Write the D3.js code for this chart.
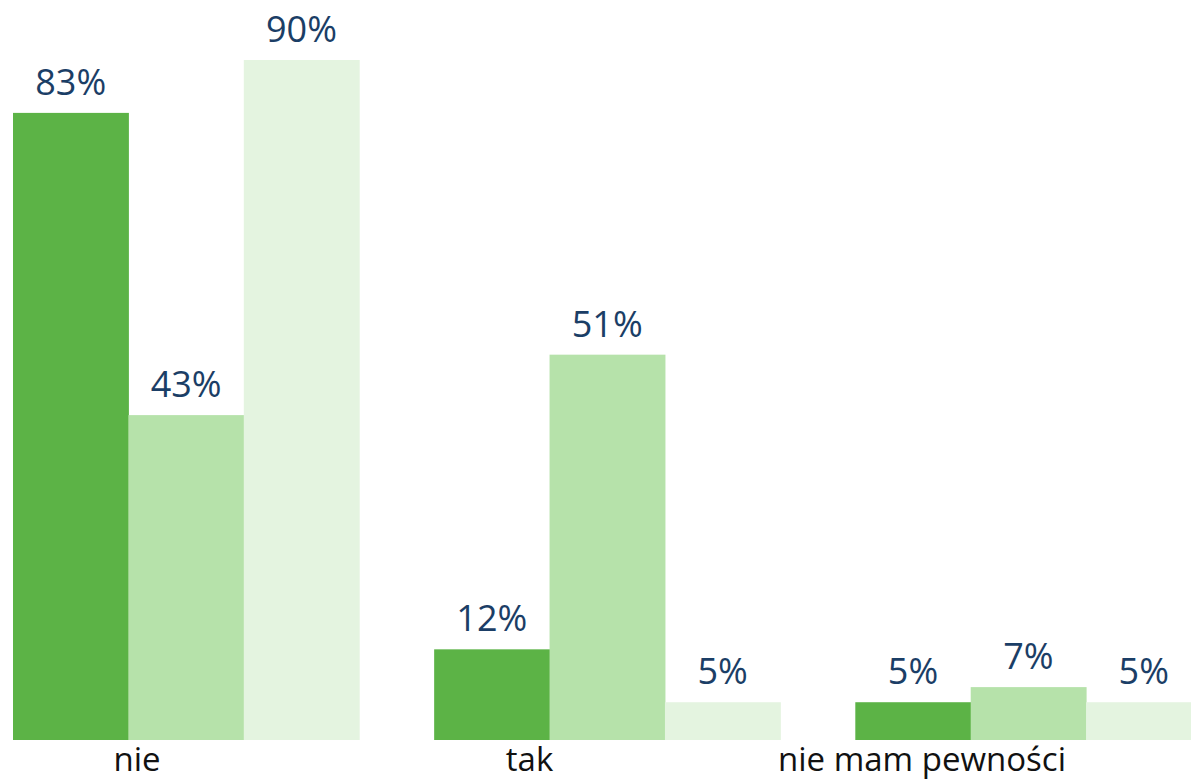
<!DOCTYPE html>
<html lang="pl">
	<head>
		<meta charset="utf-8">
		<title>Grouped bar chart</title>
		<script type="text/javascript" src="https://d3js.org/d3.v7.min.js"></script>
		<style type="text/css">
		body { margin: 0; background: #fff; }
		.valueLabel {
			font-family: "Open Sans", sans-serif;
			font-size: 36px;
			fill: #1b3e66;
			text-anchor: middle;
		}
		.catLabel {
			font-family: "Open Sans", sans-serif;
			font-size: 33px;
			fill: #111;
			text-anchor: middle;
		}
		</style>
	</head>
	<body>
		<script type="text/javascript">

		// data
		var categories = ["nie", "tak", "nie mam pewności"];
		var seriesNames = ["s1", "s2", "s3"];
		var series1 = [83, 12, 5];
		var series2 = [43, 51, 7];
		var series3 = [90, 5, 5];
		var colors = ["#5cb346", "#b6e2aa", "#e4f4e0"];

		var width = 1191, height = 781;

		var rows = categories.map(function(c, i) {
			return { cat: c, values: [series1[i], series2[i], series3[i]] };
		});

		var svg = d3.select("body")
			.append("svg")
			.attr("width", width)
			.attr("height", height);

		var xScale = d3.scaleBand()
			.domain(categories)
			.range([13, 1201.5])
			.paddingInner(0.178)
			.paddingOuter(0);

		var xInner = d3.scaleBand()
			.domain(seriesNames)
			.range([0, xScale.bandwidth()]);

		// category labels sit a bit left of group centres in the original
		var xLabel = d3.scalePoint()
			.domain(categories)
			.range([137, 922]);

		var yScale = d3.scaleLinear()
			.domain([0, 90])
			.range([740, 60]);

		var groups = svg.selectAll(".group")
			.data(rows)
			.enter()
			.append("g")
			.attr("class", "group")
			.attr("transform", function(d) { return "translate(" + xScale(d.cat) + ",0)"; });

		groups.selectAll("rect")
			.data(function(d) { return d.values.map(function(v, i) { return { key: seriesNames[i], v: v, i: i }; }); })
			.enter()
			.append("rect")
			.attr("x", function(d) { return xInner(d.key); })
			.attr("y", function(d) { return yScale(d.v); })
			.attr("width", xInner.bandwidth() + 0.5)
			.attr("height", function(d) { return yScale(0) - yScale(d.v); })
			.attr("fill", function(d) { return colors[d.i]; });

		groups.selectAll(".valueLabel")
			.data(function(d) { return d.values.map(function(v, i) { return { key: seriesNames[i], v: v }; }); })
			.enter()
			.append("text")
			.attr("class", "valueLabel")
			.attr("x", function(d) { return xInner(d.key) + xInner.bandwidth() / 2; })
			.attr("y", function(d) { return yScale(d.v) - 18; })
			.text(function(d) { return d.v + "%"; });

		svg.selectAll(".catLabel")
			.data(categories)
			.enter()
			.append("text")
			.attr("class", "catLabel")
			.attr("x", function(d) { return xLabel(d); })
			.attr("y", 771)
			.text(function(d) { return d; });

		</script>
	</body>
</html>
